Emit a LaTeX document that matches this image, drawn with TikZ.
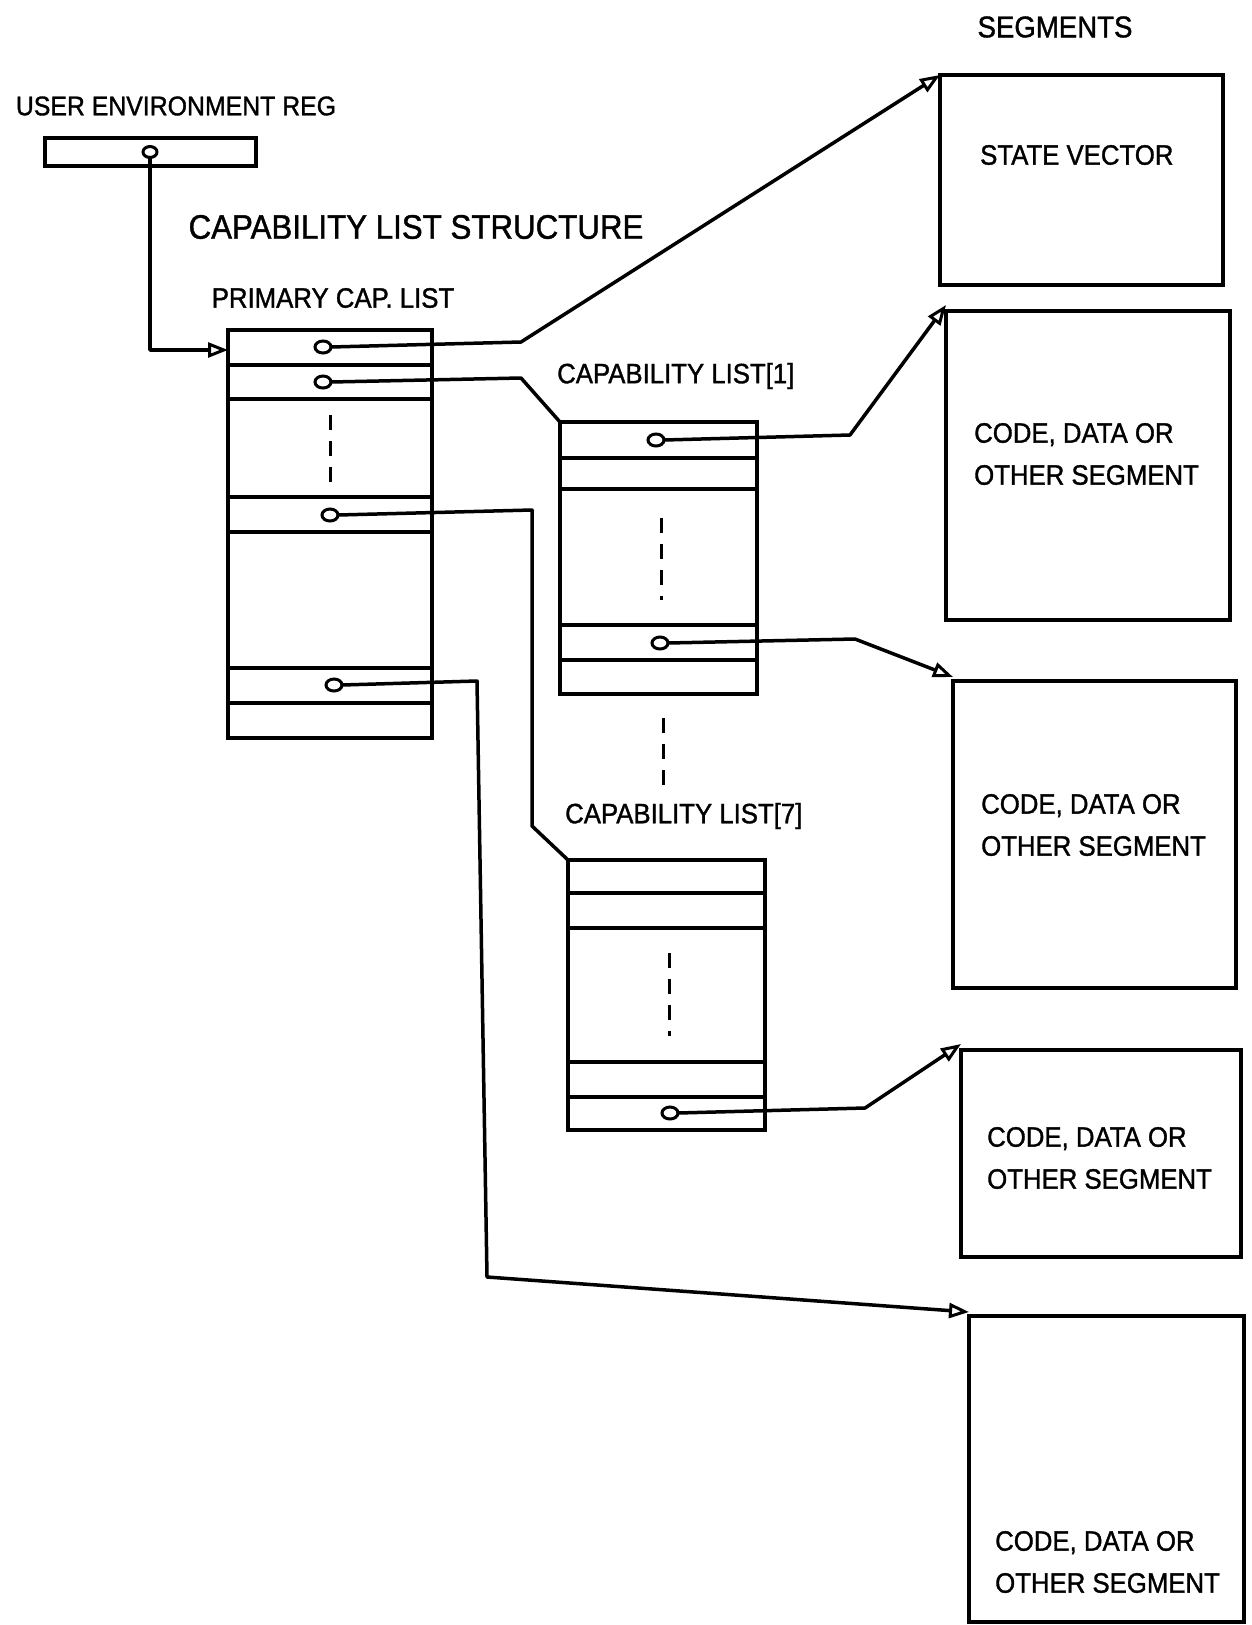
\documentclass[tikz,border=0pt]{standalone}
\usepackage{fontspec}
\setmainfont{Liberation Sans}[FakeStretch=0.92,FakeBold=1.2]
\usetikzlibrary{arrows.meta,shapes.geometric}
\begin{document}
\begin{tikzpicture}[x=1pt,y=-1pt,
  ln/.style={line width=3.5pt, line cap=round, line join=round},
  box/.style={draw, line width=3.5pt, inner sep=0pt, outer sep=0pt, anchor=north west},
  ptr/.style={draw, ellipse, line width=3pt, minimum width=16pt, minimum height=12pt, inner sep=0pt, outer sep=0pt},
  arr/.style={ln, -{Triangle[open,length=20pt,width=15pt,line width=3pt]}},
  txt/.style={font=\fontsize{28}{42}\selectfont, inner sep=0pt, align=left},
  dsh/.style={line width=3pt, dash pattern=on 15pt off 11pt}
]
\useasboundingbox (0,0) rectangle (1252,1625);

% ---- titles
\node[txt, font=\fontsize{30}{36}\selectfont] (segt) at (1055,27) {SEGMENTS};
\node[txt, font=\fontsize{27}{32}\selectfont] (uelab) at (176,106) {USER ENVIRONMENT REG};
\node[txt, font=\fontsize{34}{40}\selectfont] (cls) at (416,227) {CAPABILITY LIST STRUCTURE};
\node[txt] (plab) at (333,298) {PRIMARY CAP. LIST};
\node[txt, anchor=west] (c1lab) at (557,376) {CAPABILITY LIST[1]};
\node[txt, anchor=west] (c7lab) at (565,816) {CAPABILITY LIST[7]};

% ---- user environment register
\node[box, minimum width=211pt, minimum height=28pt] (ue) at (45,138) {};
\node[ptr, minimum width=14pt, minimum height=11pt] (uep) at (150,152) {};

% ---- primary capability list
\node[box, minimum width=204pt, minimum height=408pt] (prim) at (228,330) {};
\draw[ln] (228,365) -- (432,365);
\draw[ln] (228,399) -- (432,399);
\draw[ln] (228,497) -- (432,497);
\draw[ln] (228,532) -- (432,532);
\draw[ln] (228,668) -- (432,668);
\draw[ln] (228,703) -- (432,703);
\draw[dsh] (330,415) -- (330,484);
\node[ptr] (p1) at (323,347) {};
\node[ptr] (p2) at (323,382) {};
\node[ptr] (p3) at (330,515) {};
\node[ptr] (p4) at (334,685) {};

% ---- capability list [1]
\node[box, minimum width=197pt, minimum height=272pt] (cl1) at (560,422) {};
\draw[ln] (560,458) -- (757,458);
\draw[ln] (560,489) -- (757,489);
\draw[ln] (560,625) -- (757,625);
\draw[ln] (560,660) -- (757,660);
\draw[dsh] (661,518) -- (661,600);
\node[ptr] (q1) at (656,440) {};
\node[ptr] (q2) at (660,643) {};

% ---- dashes between lists
\draw[dsh] (663,718) -- (663,790);

% ---- capability list [7]
\node[box, minimum width=197pt, minimum height=270pt] (cl7) at (568,860) {};
\draw[ln] (568,893) -- (765,893);
\draw[ln] (568,928) -- (765,928);
\draw[ln] (568,1062) -- (765,1062);
\draw[ln] (568,1097) -- (765,1097);
\draw[dsh] (669,953) -- (669,1036);
\node[ptr] (r1) at (670,1113) {};

% ---- segments
\node[box, minimum width=283pt, minimum height=210pt] (sv) at (940,75) {};
\node[box, minimum width=284pt, minimum height=309pt] (s2) at (946,311) {};
\node[box, minimum width=283pt, minimum height=307pt] (s3) at (953,681) {};
\node[box, minimum width=280pt, minimum height=207pt] (s4) at (961,1050) {};
\node[box, minimum width=275pt, minimum height=306pt] (s5) at (969,1316) {};

\node[txt, anchor=west] (svt) at (980,155) {STATE VECTOR};
\node[txt, anchor=west] (s2t) at (974,454) {CODE, DATA OR\\OTHER SEGMENT};
\node[txt, anchor=west] (s3t) at (981,825) {CODE, DATA OR\\OTHER SEGMENT};
\node[txt, anchor=west] (s4t) at (987,1158) {CODE, DATA OR\\OTHER SEGMENT};
\node[txt, anchor=west] (s5t) at (995,1562) {CODE, DATA OR\\OTHER SEGMENT};

% ---- connectors
\coordinate (ueb) at (150,350);
\draw[arr] (uep.south) -- (ueb) -- (ueb -| prim.west);
\draw[arr] (p1.east) -- (521,342) -- (sv.north west);
\draw[ln] (p2.east) -- (521,378) -- (cl1.north west);
\draw[ln] (p3.east) -- (532,510) -- (532,826) -- (cl7.north west);
\draw[arr] (p4.east) -- (477,681) -- (487,1277) -- ([yshift=4pt]s5.north west);
\draw[arr] (q1.east) -- (850,435) -- ([yshift=6pt]s2.north west);
\draw[arr] (q2.east) -- (855,639) -- ([yshift=4pt]s3.north west);
\draw[arr] (r1.east) -- (865,1108) -- ([yshift=6pt]s4.north west);
\end{tikzpicture}
\end{document}
